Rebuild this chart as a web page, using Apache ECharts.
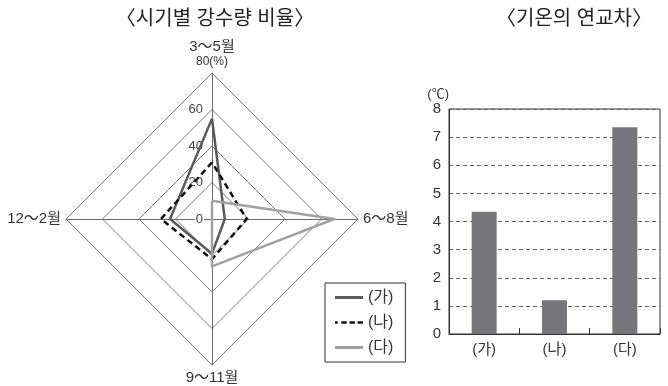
<!DOCTYPE html>
<html><head><meta charset="utf-8">
<script src="https://cdn.jsdelivr.net/npm/echarts@6/dist/echarts.min.js"></script>
<style>html,body{margin:0;padding:0;background:#fff}#c{width:668px;height:386px}</style>
</head><body><div id="c"></div>
<script>
// Radar (시기별 강수량 비율) — indicators in ECharts order: top, left, bottom, right
const seasons = ['3～5월', '12～2월', '9～11월', '6～8월'];
const radarMax = 80;
const radarTicks = [0, 20, 40, 60, 80];
const seriesNames = ['(가)', '(나)', '(다)'];
const rainGa = [55, 23, 19, 7];
const rainNa = [31, 28, 22, 19];
const rainDa = [10, 0, 26, 67];
// Bar (기온의 연교차)
const regions = ['(가)', '(나)', '(다)'];
const tempRange = [4.35, 1.2, 7.35];

const FONT = '"Liberation Sans", "Noto Sans CJK KR", sans-serif';
const TXT = '#333';
const chart = echarts.init(document.getElementById('c'), null, {renderer: 'canvas'});
const center = [212, 219];
const R = 146;
const C1 = '#5a5a5a', C2 = '#111', C3 = '#a2a2a2';

chart.setOption({
  animation: false,
  textStyle: {fontFamily: FONT, color: TXT},
  title: [
    {text: '〈시기별 강수량 비율〉', left: 210, top: 4, textAlign: 'center',
     textStyle: {fontSize: 20, fontWeight: 'normal', color: '#222', fontFamily: FONT}},
    {text: '〈기온의 연교차〉', left: 569, top: 4, textAlign: 'center',
     textStyle: {fontSize: 20, fontWeight: 'normal', color: '#222', fontFamily: FONT}}
  ],
  legend: {
    orient: 'vertical', left: 325, top: 283,
    data: [
      {name: seriesNames[0], icon: 'path://M0,0H28V3H0Z', itemStyle: {color: C1}},
      {name: seriesNames[1], icon: 'path://M0,0H3V3H0Z M7,0H13V3H7Z M16,0H22V3H16Z M25,0H31V3H25Z', itemStyle: {color: C2}},
      {name: seriesNames[2], icon: 'path://M0,0H28V3H0Z', itemStyle: {color: C3}}
    ],
    itemWidth: 28, itemHeight: 3, itemGap: 8,
    borderColor: '#333', borderWidth: 1, padding: [6, 12, 6, 10],
    textStyle: {fontSize: 16, color: TXT, fontFamily: FONT, lineHeight: 17}
  },
  radar: {
    center: center, radius: R, startAngle: 90, shape: 'polygon', splitNumber: 4,
    indicator: seasons.map(n => ({name: n, max: radarMax, min: 0})),
    nameGap: 5,
    axisName: {
      color: TXT, fontSize: 15, fontFamily: FONT,
      formatter: function (n) { return n === seasons[0] ? '{a|' + n + '}\n{b|' + radarMax + '(%)}' : n; },
      rich: {a: {fontSize: 15, color: TXT, lineHeight: 17, fontFamily: FONT},
             b: {fontSize: 12, color: TXT, lineHeight: 13, fontFamily: FONT}}
    },
    axisLine: {lineStyle: {color: '#6a6a6a', width: 1}},
    splitLine: {lineStyle: {color: '#777', width: 1}},
    splitArea: {show: false}
  },
  polar: {center: center, radius: R},
  angleAxis: {type: 'value', startAngle: 90, show: false, min: 0, max: 360},
  radiusAxis: {
    type: 'value', min: 0, max: radarMax, interval: 20,
    axisLine: {show: false}, axisTick: {show: false}, splitLine: {show: false},
    axisLabel: {
      color: '#444', fontSize: 13, fontFamily: FONT,
      formatter: v => (v === radarMax ? '' : String(v)),
      backgroundColor: '#fff', padding: [0, 1, 0, 1]
    }
  },
  grid: {left: 449, right: 8, top: 109, bottom: 52, show: true, borderColor: '#333', borderWidth: 1},
  xAxis: {
    type: 'category', data: regions,
    axisLine: {lineStyle: {color: '#333'}},
    axisTick: {show: true, inside: true, length: 6, lineStyle: {color: '#333'}},
    axisLabel: {fontSize: 15, color: TXT, margin: 8, fontFamily: FONT}
  },
  yAxis: {
    type: 'value', min: 0, max: 8, interval: 1,
    name: '(℃)', nameLocation: 'end', nameGap: 8,
    nameTextStyle: {fontSize: 13, color: TXT, align: 'right', padding: [0, 0, 0, 0], fontFamily: FONT},
    axisLine: {show: true, lineStyle: {color: '#333'}},
    axisTick: {show: false},
    axisLabel: {fontSize: 15, color: TXT, margin: 8, fontFamily: FONT},
    splitLine: {lineStyle: {color: '#666', type: [4, 3], width: 1}}
  },
  series: [
    {
      type: 'radar', symbol: 'none',
      data: [
        {name: seriesNames[0], value: rainGa, lineStyle: {color: C1, width: 2.5, type: 'solid'}, itemStyle: {color: C1}},
        {name: seriesNames[1], value: rainNa, lineStyle: {color: C2, width: 2.5, type: [6, 4]}, itemStyle: {color: C2}},
        {name: seriesNames[2], value: rainDa, lineStyle: {color: C3, width: 2.5, type: 'solid'}, itemStyle: {color: C3}}
      ]
    },
    {
      type: 'bar', data: tempRange, barWidth: 25,
      itemStyle: {color: '#77777b'}
    }
  ]
});
</script></body></html>
